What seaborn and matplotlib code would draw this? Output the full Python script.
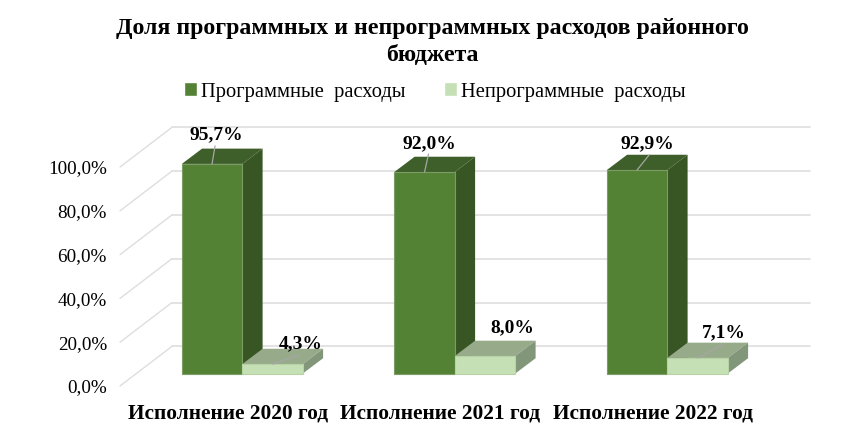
import matplotlib
matplotlib.use("Agg")
import matplotlib.pyplot as plt
from matplotlib.patches import Polygon
import seaborn as sns
import pandas as pd
import numpy as np

years = ['Исполнение 2020 год', 'Исполнение 2021 год', 'Исполнение 2022 год']
program = [95.7, 92.0, 92.9]
non_program = [4.3, 8.0, 7.1]
y_ticks = [0, 20, 40, 60, 80, 100]
series_names = ['Программные  расходы', 'Непрограммные  расходы']
title = 'Доля программных и непрограммных расходов районного\nбюджета'

sns.set_theme(style='white')
plt.rcParams['font.family'] = ['Liberation Serif', 'DejaVu Serif']

W, H = 865, 433
fig = plt.figure(figsize=(W / 100, H / 100), dpi=100)

# axes placed in pixels, the scales are set so that bars fall where the picture has them
left, right, top, bottom = 118, 812, 110, 392
ax = fig.add_axes([left / W, 1 - bottom / H, (right - left) / W, (bottom - top) / H])

px_per_cat = 212.5
px_per_pct = 2.19
x0_px = 242.3   # centre of first group
y0_px = 373.5   # base of the bars
ax_xlim = ((left - x0_px) / px_per_cat, (right - x0_px) / px_per_cat)
ax_ylim = ((y0_px - bottom) / px_per_pct, (y0_px - top) / px_per_pct)

df = pd.DataFrame({
    'year': years * 2,
    'share': program + non_program,
    'type': [series_names[0]] * 3 + [series_names[1]] * 3,
})

front_cols = ['#548235', '#C5E0B4']
side_cols = ['#375623', '#82967A']
top_cols = ['#3F5F2A', '#97AB8A']
edge_cols = ['#7C9C66', '#B7D2A4']

sns.barplot(data=df, x='year', y='share', hue='type', palette=front_cols,
            width=121 / px_per_cat, gap=0, saturation=1, ax=ax, zorder=4)

ax.set_xlim(*ax_xlim)
ax.set_ylim(*ax_ylim)

# 3d depth of the bars
dx = 20.3 / px_per_cat
dy = 15.3 / px_per_pct
for k, cont in enumerate(ax.containers):
    for bar in cont:
        x1 = bar.get_x()
        x2 = x1 + bar.get_width()
        h = bar.get_height()
        bar.set_edgecolor(edge_cols[k])
        bar.set_linewidth(0.8)
        ax.add_patch(Polygon([(x1, h), (x2, h), (x2 + dx, h + dy), (x1 + dx, h + dy)],
                             fc=top_cols[k], ec='none', zorder=3 + k * 0.2))
        ax.add_patch(Polygon([(x2, 0), (x2, h), (x2 + dx, h + dy), (x2 + dx, dy)],
                             fc=side_cols[k], ec='none', zorder=3 + k * 0.2))

# back wall gridlines and the diagonal ones on the side wall
back_shift = (y0_px - 346.3) / px_per_pct
front_shift = (y0_px - 386) / px_per_pct
wall_front = (120 - x0_px) / px_per_cat
wall_back = (172 - x0_px) / px_per_cat
wall_end = (810 - x0_px) / px_per_cat
for v in y_ticks:
    ax.plot([wall_front, wall_back], [v + front_shift, v + back_shift], color='#DEDEDE', lw=1.0, zorder=1)
    ax.plot([wall_back, wall_end], [v + back_shift, v + back_shift], color='#DEDEDE', lw=1.2, zorder=1)

# value labels with their grey leader lines, offsets in pixels from the top of the bar
label_off = [[(4, 29), (28, 20)], [(5, 28), (27, 28)], [(10, 26), (26, 25)]]
leader_end = [[(3, 18), (27, 9)], [(4, 18), (0, 0)], [(12, 15), (25, 13)]]
for k, (cont, vals) in enumerate(zip(ax.containers, [program, non_program])):
    for i, bar in enumerate(cont):
        xc = bar.get_x() + bar.get_width() / 2
        v = vals[i]
        ox, oy = label_off[i][k]
        ex, ey = leader_end[i][k]
        if ex or ey:
            ax.plot([xc, xc + ex / px_per_cat], [v, v + ey / px_per_pct], color='#A6A6A6', lw=0.9, zorder=6)
        ax.text(xc + ox / px_per_cat, v + oy / px_per_pct, f'{v:.1f}%'.replace('.', ','),
                ha='center', va='center', fontsize=14, fontweight='bold', color='black', zorder=7)

# axis text
ax.set_yticks([v + front_shift for v in y_ticks])
ax.set_yticklabels([f'{v:.1f}%'.replace('.', ',') for v in y_ticks], fontsize=13.8, color='black')
ax.set_xticks(np.arange(3) - 14.5 / px_per_cat)
ax.set_xticklabels(years, fontsize=15.4, fontweight='bold', color='black')
ax.tick_params(axis='y', length=0, pad=8)
ax.tick_params(axis='x', length=0, pad=8.5)
ax.set_xlabel('')
ax.set_ylabel('')
sns.despine(ax=ax, left=True, bottom=True)

handles, labels = ax.get_legend_handles_labels()
ax.legend(handles, labels, ncol=2, frameon=False, loc='center',
          bbox_to_anchor=(435 / W, 1 - 92 / H), bbox_transform=fig.transFigure,
          fontsize=14.8, handlelength=0.6, handleheight=0.65, handletextpad=0.2,
          columnspacing=1.9, labelcolor='black')

fig.text(432.5 / W, 1 - 42 / H, title, ha='center', va='center', fontsize=17.2,
         fontweight='bold', color='black', linespacing=1.35)

fig.savefig('out.png', dpi=100, facecolor='white')
